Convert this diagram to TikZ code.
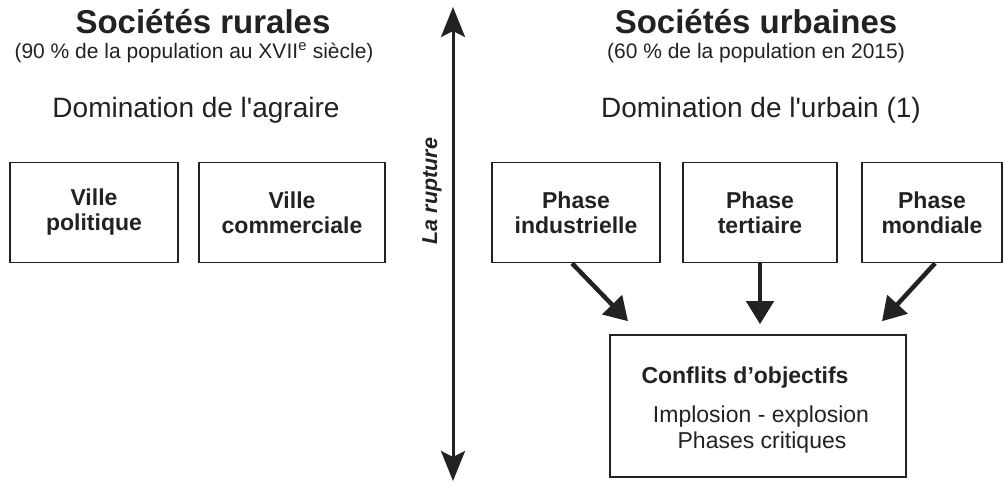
\documentclass[tikz,border=0pt]{standalone}
\usepackage{fontspec}
\setmainfont{Liberation Sans}
\usetikzlibrary{arrows.meta}
\definecolor{ink}{HTML}{222222}
\begin{document}
\begin{tikzpicture}[x=1pt,y=-1pt,
  every node/.style={text=ink},
  stagebox/.style={draw=ink, line width=1.6pt, minimum height=100pt, inner sep=0pt, align=center,
    font=\fontsize{23}{25}\selectfont\bfseries},
  titletext/.style={anchor=base, font=\fontsize{33}{36}\selectfont\bfseries},
  subtext/.style={anchor=base, font=\fontsize{21}{24}\selectfont},
  domtext/.style={anchor=base, font=\fontsize{28}{32}\selectfont},
  boxline/.style={anchor=base, font=\fontsize{23}{26}\selectfont},
  flow/.style={draw=ink, line width=4.5pt, -{Triangle[width=27pt,length=23pt]}},
  axis/.style={draw=ink, line width=3pt, {Stealth[width=24pt,length=30pt,inset=6pt]}-{Stealth[width=24pt,length=30pt,inset=6pt]}},
]
\useasboundingbox (0,0) rectangle (1006,482);

% titles
\node[titletext] (tr) at (203,33) {Sociétés rurales};
\node[subtext] (sr) at (194,58) {(90 \% de la population au XVII\textsuperscript{e} siècle)};
\node[domtext] (dr) at (196,117) {Domination de l\textquotesingle agraire};

\node[titletext] (tu) at (756,33) {Sociétés urbaines};
\node[subtext] (su) at (756,58) {(60 \% de la population en 2015)};
\node[domtext] (du) at (761,117) {Domination de l\textquotesingle urbain (1)};

% vertical rupture axis
\coordinate (rtop) at (453,7);
\coordinate (rbot) at (453,481);
\draw[axis] (rtop) -- (rbot);
\node[rotate=90, font=\fontsize{21.5}{24}\selectfont\bfseries\itshape] (rup) at (432,191) {La rupture};

% boxes
\node[stagebox, minimum width=168pt] (vp) at (94,212.5) {Ville\\politique};
\node[stagebox, minimum width=186pt] (vc) at (292,212.5) {Ville\\commerciale};
\node[stagebox, minimum width=168pt] (ind) at (576,212.5) {Phase\\industrielle};
\node[stagebox, minimum width=154pt] (ter) at (760,212.5) {Phase\\tertiaire};
\node[stagebox, minimum width=140pt] (mon) at (932,212.5) {Phase\\mondiale};

% conflicts box
\node[draw=ink, line width=1.6pt, minimum width=296pt, minimum height=142pt, inner sep=0pt] (conf) at (758,406) {};
\node[boxline, font=\fontsize{23}{26}\selectfont\bfseries] (c1) at (745,383) {Conflits d’objectifs};
\node[boxline] (c2) at (761,422) {Implosion - explosion};
\node[boxline] (c3) at (762,448) {Phases critiques};

% arrows
\draw[flow] ([xshift=-4pt]ind.south) -- ([xshift=-130pt,yshift=13pt]conf.north);
\draw[flow] (ter.south) -- ([yshift=10pt]ter.south |- conf.north);
\draw[flow] ([xshift=3pt]mon.south) -- ([xshift=124pt,yshift=13pt]conf.north);
\end{tikzpicture}
\end{document}
